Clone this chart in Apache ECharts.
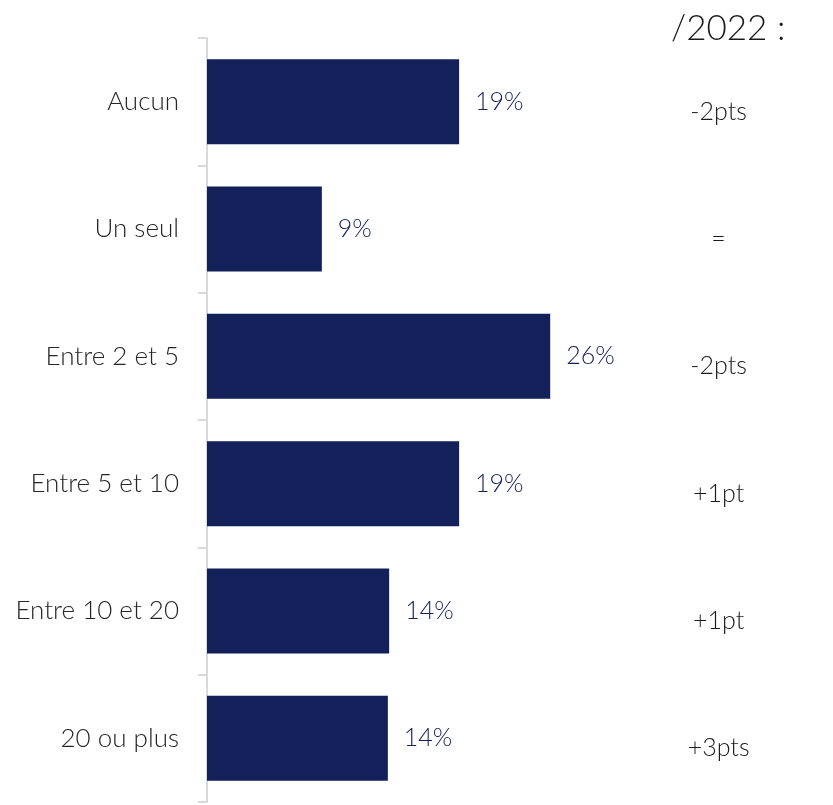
<!DOCTYPE html>
<html>
<head>
<meta charset="utf-8">
<script src="https://cdn.jsdelivr.net/npm/echarts@6/dist/echarts.min.js"></script>
<style>html,body{margin:0;padding:0;background:#fff;}#c{width:833px;height:805px;}</style>
</head>
<body>
<div id="c"></div>
<script>
const categories = ['Aucun', 'Un seul', 'Entre 2 et 5', 'Entre 5 et 10', 'Entre 10 et 20', '20 ou plus'];
const values = [19.1, 8.7, 26.0, 19.1, 13.8, 13.7];
const valueLabels = ['19%', '9%', '26%', '19%', '14%', '14%'];
const deltas = ['-2pts', '=', '-2pts', '+1pt', '+1pt', '+3pts'];
const deltaHeader = '/2022 :';

const FONT = 'Lato';
const W = 300;
const chart = echarts.init(document.getElementById('c'));
chart.setOption({
  animation: false,
  backgroundColor: '#ffffff',
  title: {
    text: deltaHeader,
    left: 666, top: 6,
    textStyle: { fontFamily: FONT, fontSize: 35, fontWeight: W, color: '#1a1a1a' }
  },
  grid: { left: 207, top: 38, bottom: 3, width: 501.6, containLabel: false },
  xAxis: { type: 'value', min: 0, max: 38, show: false },
  yAxis: [{
    type: 'category', data: categories, inverse: true,
    axisLine: { show: true, lineStyle: { color: '#d9d9d9', width: 2 } },
    axisTick: { show: true, length: 9, lineStyle: { color: '#d9d9d9', width: 2 } },
    axisLabel: { margin: 28, fontFamily: FONT, fontSize: 26, fontWeight: W, color: '#262626' }
  }, {
    type: 'category', data: categories, inverse: true, position: 'right',
    axisLine: { show: false }, axisTick: { show: false },
    axisLabel: {
      margin: 10, align: 'center', verticalAlign: 'top', lineHeight: 20,
      fontFamily: FONT, fontSize: 25, fontWeight: W, color: '#1a1a1a',
      formatter: (v, i) => deltas[i]
    }
  }],
  series: [{
    type: 'bar', data: values, barWidth: 85,
    itemStyle: { color: '#13205a' },
    label: {
      show: true, position: 'right', distance: 16,
      fontFamily: FONT, fontSize: 25, fontWeight: W, color: '#13205a',
      formatter: p => valueLabels[p.dataIndex]
    }
  }]
});
</script>
</body>
</html>
